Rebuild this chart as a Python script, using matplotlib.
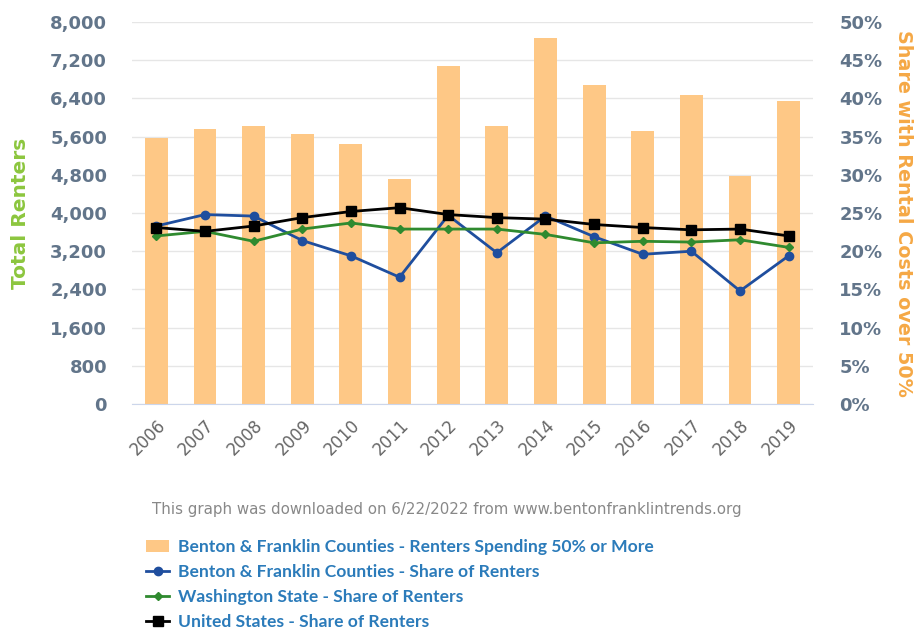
import numpy as np
import matplotlib
matplotlib.use("Agg")
import matplotlib.pyplot as plt
from matplotlib.patches import Patch
from matplotlib.lines import Line2D
from matplotlib.ticker import FuncFormatter

years = ["2006", "2007", "2008", "2009", "2010", "2011", "2012",
         "2013", "2014", "2015", "2016", "2017", "2018", "2019"]
renters_50 = [5577, 5752, 5822, 5648, 5439, 4706, 7079,
              5822, 7665, 6687, 5717, 6478, 4775, 6346]
bf_share = [23.3, 24.8, 24.6, 21.4, 19.4, 16.6, 24.7,
            19.8, 24.6, 21.9, 19.6, 20.0, 14.8, 19.4]
wa_share = [22.0, 22.6, 21.3, 22.9, 23.7, 22.9, 22.9,
            22.9, 22.2, 21.1, 21.3, 21.2, 21.5, 20.5]
us_share = [23.1, 22.6, 23.3, 24.4, 25.2, 25.7, 24.8,
            24.4, 24.2, 23.5, 23.1, 22.8, 22.9, 22.0]

BAR = "#fec886"
BLUE = "#1f4e9e"
GREEN = "#2f8a2f"
TICK = "#62758a"

fig = plt.figure(figsize=(9.15, 6.31), dpi=100)
ax = fig.add_axes([0.1443, 0.3597, 0.7442, 0.6054])
x = np.arange(len(years))

# bars on the left axis (counts)
ax.bar(x, renters_50, width=0.47, color=BAR, zorder=2)
ax.set_xlim(-0.5, len(years) - 0.5)
ax.set_ylim(0, 8000)
ax.set_yticks(np.arange(0, 8001, 800))
ax.yaxis.set_major_formatter(FuncFormatter(lambda v, p: f"{int(v):,}"))
ax.grid(axis="y", color="#e6e6e6", linewidth=1, zorder=0)
ax.set_axisbelow(True)
for s in ["top", "right", "left"]:
    ax.spines[s].set_visible(False)
ax.spines["bottom"].set_color("#ccd6eb")
ax.tick_params(axis="both", length=0)
ax.tick_params(axis="y", labelsize=13, labelcolor=TICK, pad=18)
for t in ax.get_yticklabels():
    t.set_fontweight("bold")
ax.set_xticks(x)
ax.set_xticklabels(years, rotation=45, ha="right", rotation_mode="anchor",
                   fontsize=12, color="#666666")
ax.tick_params(axis="x", pad=9)

# shares on the right axis
ax2 = ax.twinx()
ax2.plot(x, bf_share, color=BLUE, lw=2, marker="o", ms=6, zorder=3)
ax2.plot(x, wa_share, color=GREEN, lw=2, marker="D", ms=4, zorder=3)
ax2.plot(x, us_share, color="black", lw=2, marker="s", ms=7, zorder=4)
ax2.set_ylim(0, 50)
ax2.set_yticks(np.arange(0, 51, 5))
ax2.yaxis.set_major_formatter(FuncFormatter(lambda v, p: f"{int(v)}%"))
for s in ["top", "right", "left", "bottom"]:
    ax2.spines[s].set_visible(False)
ax2.tick_params(axis="y", length=0, labelsize=13, labelcolor=TICK, pad=19)
for t in ax2.get_yticklabels():
    t.set_fontweight("bold")

fig.text(0.022, 0.6624, "Total Renters", rotation=90, ha="center", va="center",
         color="#8cc63e", fontsize=14.5, fontweight="bold")
fig.text(0.987, 0.6624, "Share with Rental Costs over 50%", rotation=270,
         ha="center", va="center", color="#f5a845", fontsize=13.8, fontweight="bold")

fig.text(0.488, 0.192,
         "This graph was downloaded on 6/22/2022 from www.bentonfranklintrends.org",
         ha="center", va="center", color="#888888", fontsize=10.8)

handles = [
    Patch(facecolor=BAR, edgecolor="none"),
    Line2D([], [], color=BLUE, lw=2, marker="o", ms=6),
    Line2D([], [], color=GREEN, lw=2, marker="D", ms=4),
    Line2D([], [], color="black", lw=2, marker="s", ms=7),
]
labels = [
    "Benton & Franklin Counties - Renters Spending 50% or More",
    "Benton & Franklin Counties - Share of Renters",
    "Washington State - Share of Renters",
    "United States - Share of Renters",
]
leg = fig.legend(handles, labels, loc="upper left", bbox_to_anchor=(0.16, 0.146),
                 frameon=False, handlelength=1.3, handletextpad=0.5,
                 labelspacing=0.52, borderpad=0, borderaxespad=0,
                 prop={"family": ["Lato", "DejaVu Sans"],
                       "weight": "bold", "size": 12.6})
for t in leg.get_texts():
    t.set_color("#2b7bba")

fig.savefig("out.png", dpi=100)
